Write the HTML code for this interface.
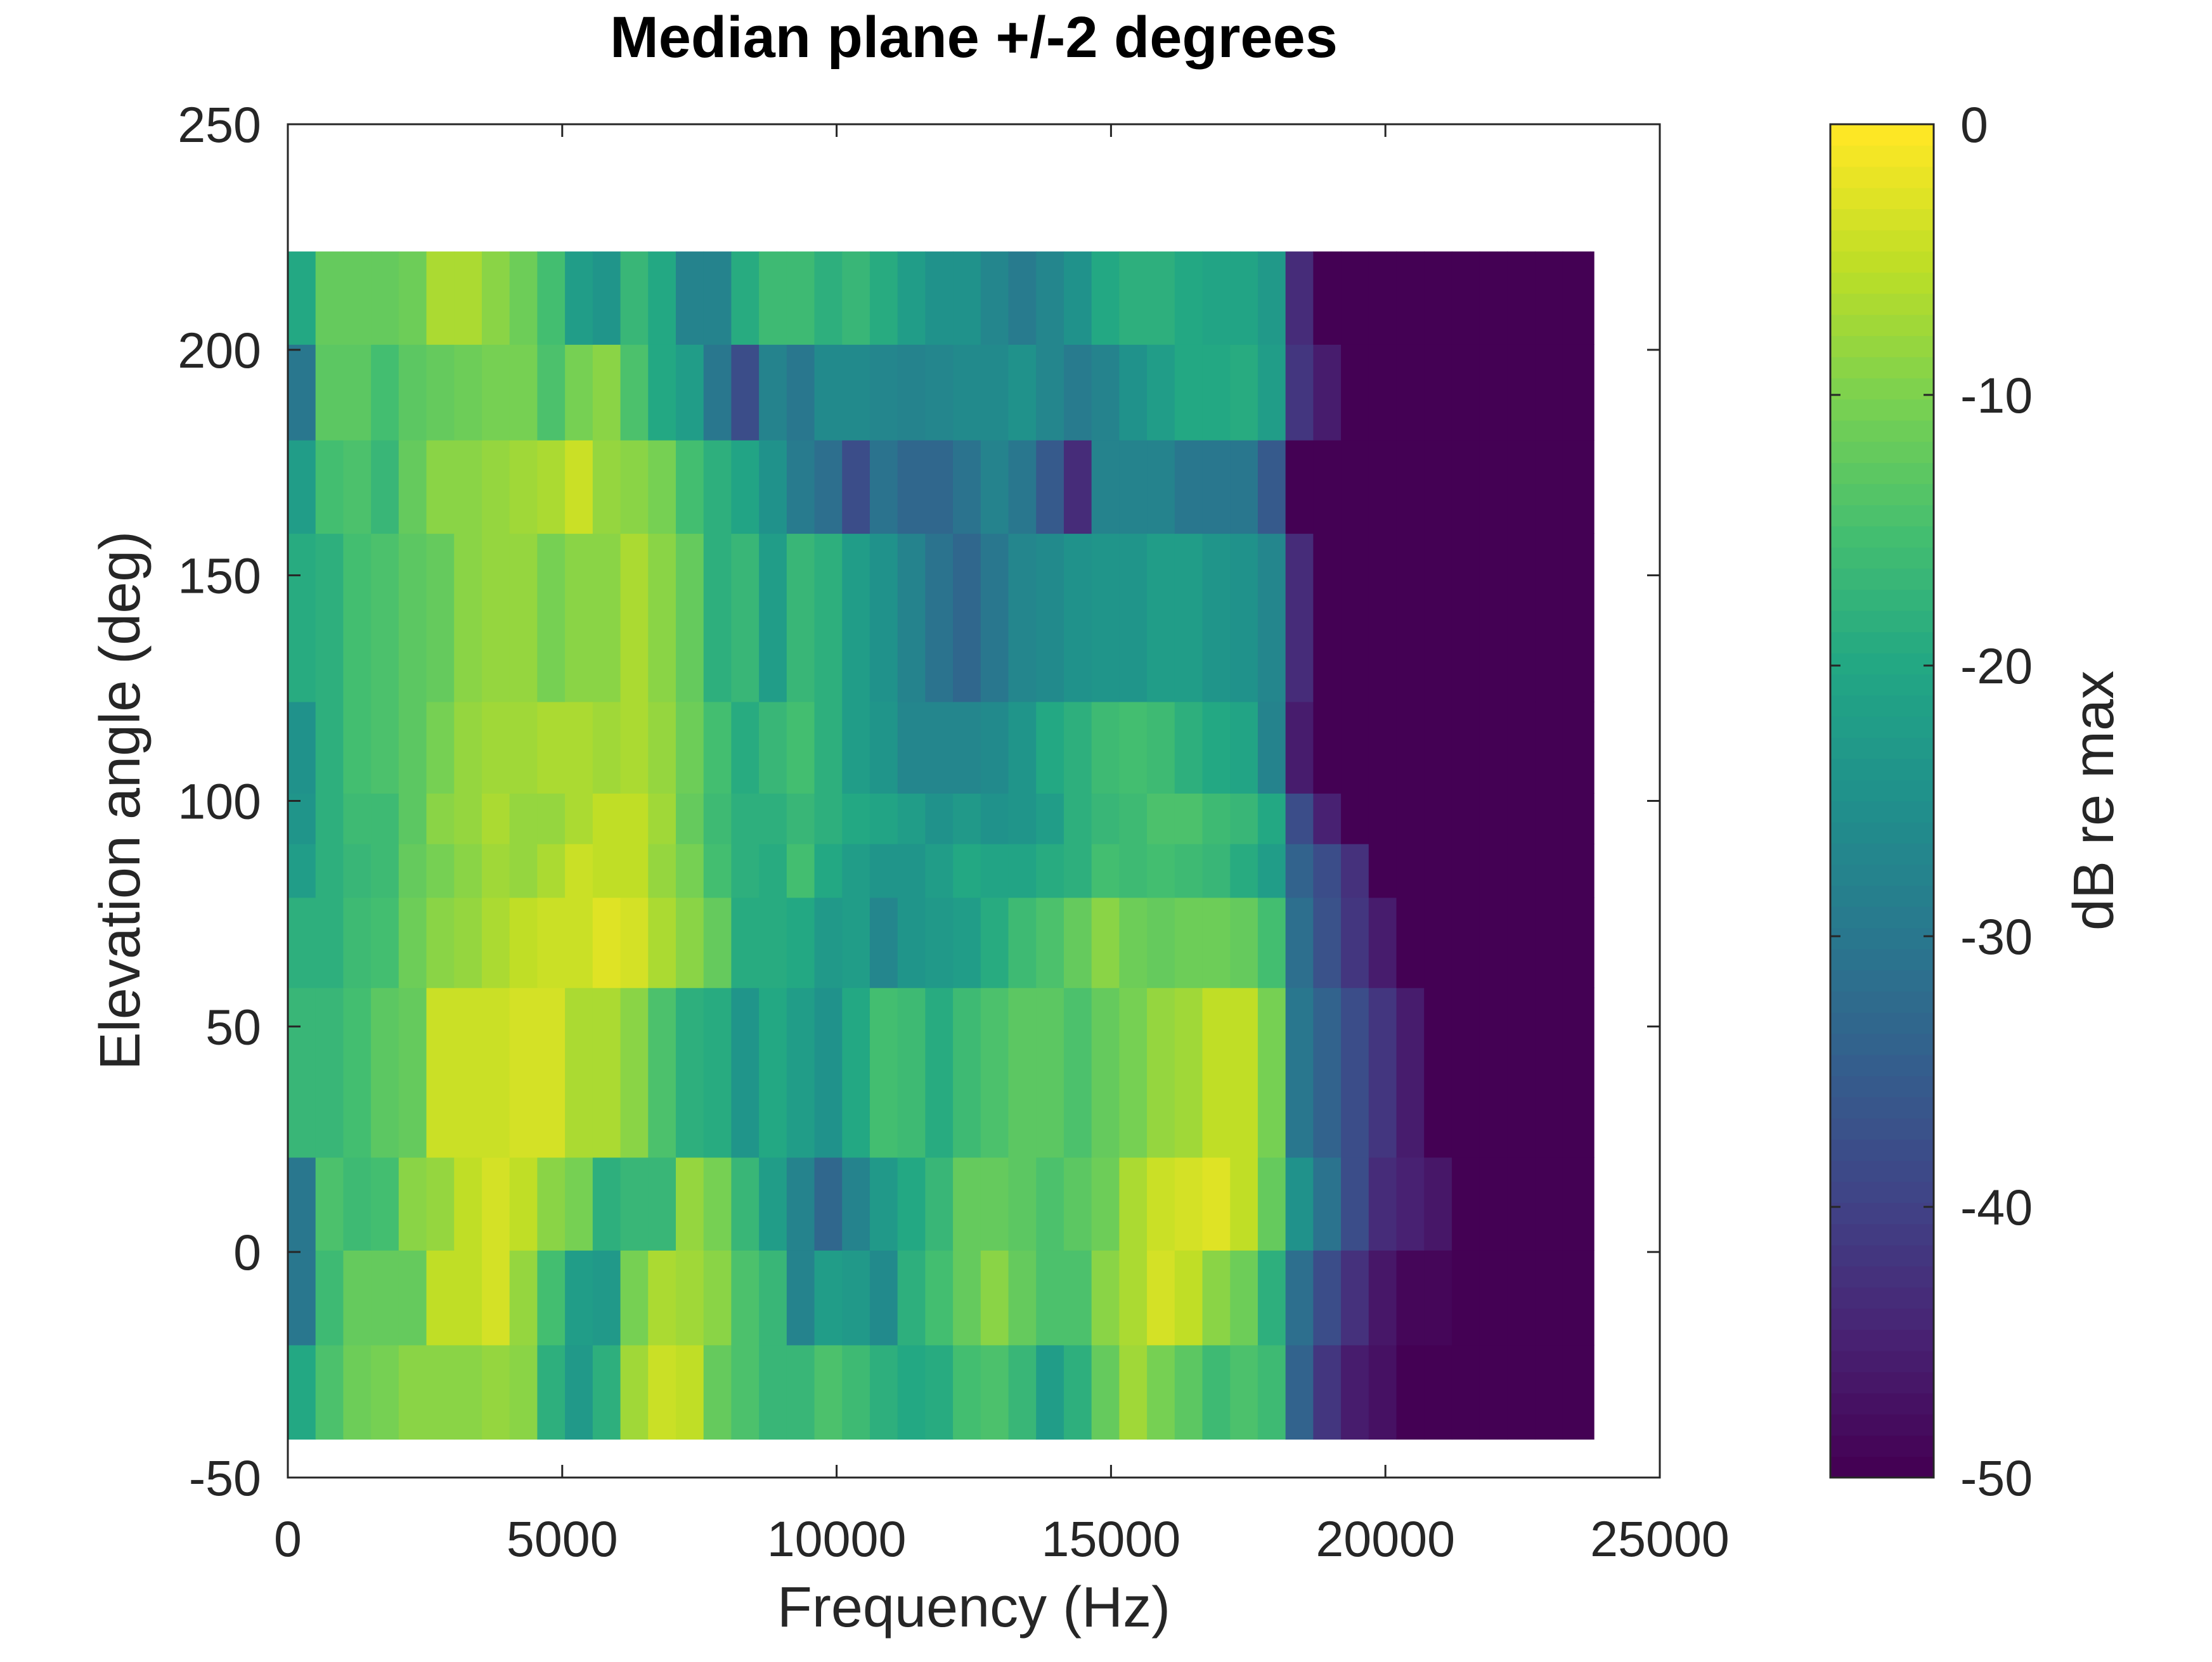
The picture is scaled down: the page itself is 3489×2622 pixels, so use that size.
<!DOCTYPE html>
<html><head><meta charset="utf-8"><style>
html,body{margin:0;padding:0;background:#fff;}
svg text{font-family:"Liberation Sans",sans-serif;fill:#262626;}
</style></head><body>
<svg id="chart" width="3489" height="2617" viewBox="0 0 3489 2617" xmlns="http://www.w3.org/2000/svg">
<rect width="3489" height="2617" fill="#fff"/>
<g id="cells"></g>
<g id="cbar"></g>
<g id="axes"></g>
<text x="1536" y="90" text-anchor="middle" font-size="92" font-weight="bold" style="fill:#000">Median plane +/-2 degrees</text>
<text x="1536" y="2566" text-anchor="middle" font-size="90">Frequency (Hz)</text>
<text transform="translate(220,1263) rotate(-90)" text-anchor="middle" font-size="90">Elevation angle (deg)</text>
<text transform="translate(3333,1263) rotate(-90)" text-anchor="middle" font-size="90">dB re max</text>
</svg>
<script>
// Row elevation edges (bottom to top)
const rowEdges = [-41.5,-20.6,0.4,21,58.6,78.6,90.5,101.7,122,159.3,180,201.2,221.8];
const binWidthHz = 505;
const maxFreq = 23800;
const xTicks = [0,5000,10000,15000,20000,25000];
const yTicks = [-50,0,50,100,150,200,250];
const cTicks = [0,-10,-20,-30,-40,-50];
// Row values in dB per frequency bin starting at 0 Hz (rows listed bottom to top); remaining bins are -50
const rowL = [-20,-14,-11,-10,-9,-9,-9,-8,-9,-18,-23,-18,-7,-4,-5,-12,-14,-17,-17,-14,-16,-18,-20,-19,-15,-14,-17,-22,-18,-12,-7,-10,-13,-16,-14,-16,-34,-42,-46,-48];
const rowK = [-30,-16,-12,-12,-12,-5,-5,-3,-8,-15,-22,-23,-10,-6,-7,-9,-14,-17,-28,-22,-23,-26,-18,-15,-12,-9,-12,-14,-14,-9,-6,-3,-5,-9,-11,-18,-32,-38,-43,-47,-49,-49];
const rowJ = [-30,-14,-16,-15,-9,-8,-5,-3,-5,-9,-10,-18,-17,-17,-8,-10,-17,-22,-28,-33,-28,-23,-20,-17,-12,-12,-13,-14,-13,-11,-6,-4,-3,-2,-5,-12,-25,-31,-38,-44,-45,-47];
const rowI = [-17,-17,-15,-13,-12,-4,-4,-4,-3,-3,-6,-6,-9,-14,-18,-19,-24,-20,-22,-25,-20,-15,-16,-19,-16,-14,-13,-13,-14,-12,-10,-8,-7,-5,-5,-10,-30,-34,-38,-42,-46];
const rowH = [-18,-18,-16,-15,-11,-9,-8,-6,-5,-4,-4,-2,-3,-6,-9,-12,-19,-19,-20,-23,-22,-27,-24,-23,-22,-19,-16,-14,-12,-9,-11,-12,-11,-11,-12,-15,-32,-37,-42,-46];
const rowG = [-22,-18,-17,-16,-12,-10,-9,-7,-8,-6,-4,-5,-5,-8,-10,-15,-18,-19,-15,-20,-22,-24,-24,-22,-20,-21,-21,-19,-18,-15,-16,-15,-16,-17,-19,-22,-34,-38,-43];
const rowF = [-24,-18,-16,-16,-13,-9,-8,-6,-8,-8,-6,-5,-5,-7,-12,-16,-18,-18,-17,-18,-20,-21,-22,-25,-23,-25,-24,-22,-18,-17,-16,-14,-14,-16,-17,-20,-38,-45];
const rowE = [-25,-18,-15,-14,-13,-10,-8,-7,-7,-6,-6,-7,-6,-8,-11,-15,-19,-17,-15,-18,-22,-24,-27,-27,-27,-26,-24,-20,-18,-16,-15,-16,-18,-20,-21,-28,-46];
const rowD = [-19,-18,-15,-14,-13,-12,-9,-8,-8,-10,-9,-9,-6,-9,-12,-18,-17,-22,-17,-18,-22,-25,-28,-31,-33,-30,-27,-26,-25,-24,-24,-22,-22,-24,-25,-27,-44];
const rowC = [-22,-15,-14,-17,-12,-9,-9,-8,-7,-6,-4,-8,-9,-10,-15,-18,-21,-25,-29,-32,-38,-31,-33,-33,-31,-28,-30,-36,-44,-28,-28,-28,-30,-30,-30,-36];
const rowB = [-30,-13,-13,-15,-13,-12,-11,-10,-10,-14,-10,-9,-14,-20,-22,-30,-38,-28,-30,-26,-26,-27,-28,-27,-26,-26,-25,-27,-29,-28,-25,-22,-20,-20,-19,-22,-42,-46];
const rowA = [-20,-12,-12,-12,-11,-6,-6,-9,-11,-15,-22,-24,-17,-20,-28,-28,-19,-16,-16,-18,-17,-19,-22,-25,-25,-27,-29,-27,-25,-20,-18,-18,-20,-21,-21,-23,-44];
const rows = [rowL,rowK,rowJ,rowI,rowH,rowG,rowF,rowE,rowD,rowC,rowB,rowA];

const PL=454, PR=2618, PT=196, PB=2331;
const xS = f => PL + (f-0)/(25000-0)*(PR-PL);
const yS = v => PB - (v-(-50))/(250-(-50))*(PB-PT);
const CL=2887, CR=3050;
const cS = d => PB - (d-(-50))/50*(PB-PT);

const VIR=[[68,1,84],[72,35,116],[64,67,135],[52,94,141],[41,120,142],[32,144,140],[34,167,132],[68,190,112],[121,209,81],[189,222,38],[253,231,37]];
function viridis(t){t=Math.max(0,Math.min(1,t));t=Math.round(t*63)/63;const p=t*10,i=Math.min(9,Math.floor(p)),f=p-i;const a=VIR[i],b=VIR[i+1];
return 'rgb('+a.map((c,k)=>Math.round(c+(b[k]-c)*f)).join(',')+')';}
const colorOf = d => viridis((d+50)/50);
const NS='http://www.w3.org/2000/svg';
function mk(tag,attrs,parent){const e=document.createElementNS(NS,tag);for(const k in attrs)e.setAttribute(k,attrs[k]);parent.appendChild(e);return e;}

const cells=document.getElementById('cells');
const nBins=Math.ceil(maxFreq/binWidthHz);
rows.forEach((row,r)=>{
  const y0=yS(rowEdges[r+1]), y1=yS(rowEdges[r]);
  for(let b=0;b<nBins;b++){
    const v = b<row.length?row[b]:-50;
    const f0=b*binWidthHz, f1=Math.min(maxFreq,(b+1)*binWidthHz);
    const x0=xS(f0), x1=xS(f1);
    const c=mk('rect',{x:x0,y:y0,width:x1-x0+0.6,height:y1-y0+0.6,fill:colorOf(v)},cells);
    
    
  }
});

const cbar=document.getElementById('cbar');
for(let i=0;i<64;i++){
  const d0=-50+i*50/64, d1=-50+(i+1)*50/64;
  const s=mk('rect',{x:CL,y:cS(d1),width:CR-CL,height:cS(d0)-cS(d1)+0.6,fill:viridis(i/63)},cbar);
  
  
}
mk('rect',{x:CL,y:PT,width:CR-CL,height:PB-PT,fill:'none',stroke:'#262626','stroke-width':3},cbar);
cTicks.forEach(t=>{
  const y=cS(t);
  mk('line',{x1:CL,x2:CL+16,y1:y,y2:y,stroke:'#262626','stroke-width':3},cbar);
  mk('line',{x1:CR,x2:CR-16,y1:y,y2:y,stroke:'#262626','stroke-width':3},cbar);
  const tx=mk('text',{x:3092,y:y+28,'font-size':79},cbar);tx.textContent=t;
  
  
});

const ax=document.getElementById('axes');
mk('rect',{x:PL,y:PT,width:PR-PL,height:PB-PT,fill:'none',stroke:'#262626','stroke-width':3},ax);
xTicks.forEach(t=>{
  const x=xS(t);
  mk('line',{x1:x,x2:x,y1:PB,y2:PB-20,stroke:'#262626','stroke-width':3},ax);
  mk('line',{x1:x,x2:x,y1:PT,y2:PT+20,stroke:'#262626','stroke-width':3},ax);
  const tx=mk('text',{x:x,y:2455,'font-size':79,'text-anchor':'middle'},ax);tx.textContent=t;
  
  
});
yTicks.forEach(t=>{
  const y=yS(t);
  mk('line',{x1:PL,x2:PL+20,y1:y,y2:y,stroke:'#262626','stroke-width':3},ax);
  mk('line',{x1:PR,x2:PR-20,y1:y,y2:y,stroke:'#262626','stroke-width':3},ax);
  const tx=mk('text',{x:412,y:y+28,'font-size':79,'text-anchor':'end'},ax);tx.textContent=t;
  
  
});
</script>
</body></html>
